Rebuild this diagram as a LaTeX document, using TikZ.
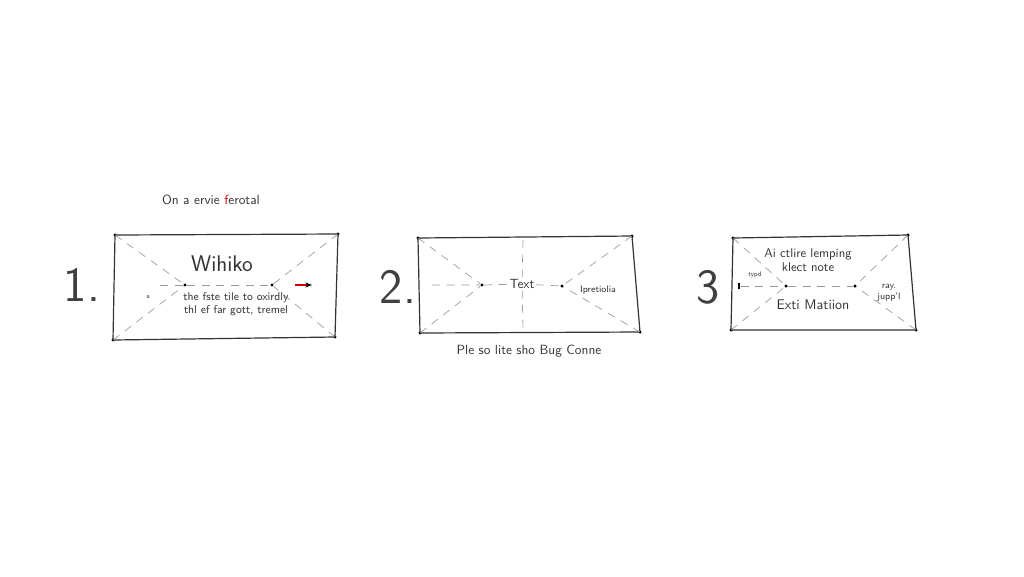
\documentclass[tikz,border=0pt]{standalone}
\usepackage{tikz}
\usetikzlibrary{arrows.meta,positioning}
\begin{document}
\begin{tikzpicture}[x=0.75pt,y=-0.75pt,
  frame/.style={draw=black!80,line width=0.9pt},
  guide/.style={draw=black!40,dash pattern=on 6pt off 5pt,line width=0.5pt},
  pin/.style={circle,fill=black,inner sep=0pt,minimum size=2.6pt},
  note/.style={font=\sffamily\fontsize{8.5}{9.5}\selectfont,text=black!80,align=center,inner sep=1pt},
  numeral/.style={font=\sffamily\fontsize{37}{39}\selectfont,text=black!75,inner sep=0pt}]
\useasboundingbox (0,0) rectangle (1024,576);

% panel 1
\coordinate (tl1) at (115,235); \coordinate (tr1) at (338,234);
\coordinate (bl1) at (113,340); \coordinate (br1) at (335,337);
\draw[frame] (tl1) -- (tr1) -- (br1) -- (bl1) -- cycle;
\foreach \c in {tl1,tr1,bl1,br1} \node[pin] at (\c) {};
\node[pin] (p1a) at (185,285) {};
\node[pin] (p1b) at (272,285) {};
\draw[guide] (tl1) -- (p1a); \draw[guide] (bl1) -- (p1a);
\draw[guide] (tr1) -- (p1b); \draw[guide] (br1) -- (p1b);
\coordinate (h1) at (160,285);
\draw[guide] (h1) -- (p1a) -- (p1b);
\coordinate (arr1) at (312,285);
\draw[red!80!black,line width=1.1pt,-{Stealth[length=5pt,black]}] (295,285) -- (arr1);
\node[numeral] (num1) at (82,285) {1.};
\node[font=\sffamily\fontsize{17}{19}\selectfont,text=black!80] (head1) at (222,264) {Wihiko};
\node[note] (txt1) at (236,304) {the fste tile to oxirdly\\ thl ef far gott, tremel};
\node[note,font=\sffamily\fontsize{5}{6}\selectfont] (mark1) at (148,297) {a};
\node[note,font=\sffamily\fontsize{10}{11}\selectfont] (title1) at (211,200) {On a ervie \textcolor{red!80!black}{f}erotal};

% panel 2
\coordinate (tl2) at (418,238); \coordinate (tr2) at (632,236);
\coordinate (bl2) at (420,333); \coordinate (br2) at (640,332);
\draw[frame] (tl2) -- (tr2) -- (br2) -- (bl2) -- cycle;
\foreach \c in {tl2,tr2,bl2,br2} \node[pin] at (\c) {};
\node[pin] (p2a) at (482,285) {};
\node[pin] (p2b) at (562,286) {};
\draw[guide] (tl2) -- (p2a); \draw[guide] (bl2) -- (p2a);
\draw[guide] (tr2) -- (p2b); \draw[guide] (br2) -- (p2b);
\node[note,font=\sffamily\fontsize{10}{11}\selectfont] (txt2) at (522,284) {Text};
\coordinate (h2) at (432,285);
\draw[guide] (h2) -- (p2a) -- (txt2) -- (p2b);
\coordinate (v2a) at (523,240); \coordinate (v2b) at (523,330);
\draw[guide] (v2a) -- (txt2) -- (v2b);
\node[note,font=\sffamily\fontsize{7}{8}\selectfont] (side2) at (598,290) {Ipretiolia};
\node[numeral] (num2) at (398,287) {2.};
\node[note,font=\sffamily\fontsize{10}{11}\selectfont] (cap2) at (529,351) {Ple so lite sho Bug Conne};

% panel 3
\coordinate (tl3) at (733,238); \coordinate (tr3) at (908,235);
\coordinate (bl3) at (731,330); \coordinate (br3) at (916,330);
\draw[frame] (tl3) -- (tr3) -- (br3) -- (bl3) -- cycle;
\foreach \c in {tl3,tr3,bl3,br3} \node[pin] at (\c) {};
\node[pin] (p3a) at (786,286) {};
\node[pin] (p3b) at (855,286) {};
\draw[guide] (tl3) -- (p3a); \draw[guide] (bl3) -- (p3a);
\draw[guide] (tr3) -- (p3b); \draw[guide] (br3) -- (p3b);
\node[fill=black,inner sep=0pt,minimum width=2pt,minimum height=5pt] (m3) at (739,286) {};
\draw[guide] (m3) -- (p3a) -- (p3b);
\node[note,font=\sffamily\fontsize{9.5}{10.5}\selectfont] (txt3a) at (808,260) {Ai ctlire lemping\\ klect note};
\node[note,font=\sffamily\fontsize{10.5}{11.5}\selectfont] (txt3b) at (813,305) {Exti Matiion};
\node[note,font=\sffamily\fontsize{7}{8}\selectfont] (side3) at (889,293) {ray.\\ jupp'l};
\node[note,font=\sffamily\fontsize{5}{5.5}\selectfont] (tag3) at (755,275) {typd};
\node[numeral] (num3) at (708,287) {3};
\end{tikzpicture}
\end{document}
